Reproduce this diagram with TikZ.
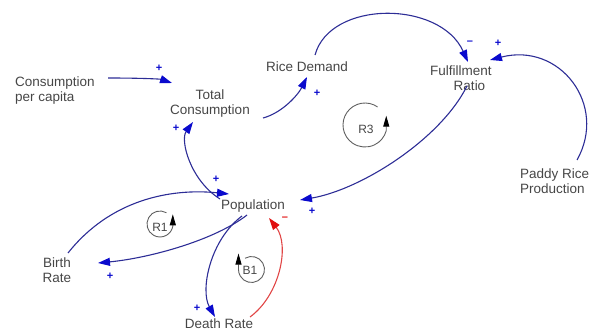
\documentclass[tikz,border=0pt]{standalone}
\usepackage{fontspec}
\setmainfont{Liberation Sans}
\usetikzlibrary{arrows.meta,calc}
\definecolor{linkblue}{RGB}{45,45,150}
\definecolor{tipblue}{RGB}{10,10,205}
\definecolor{linkred}{RGB}{225,70,70}
\definecolor{tipred}{RGB}{225,15,15}
\definecolor{txt}{RGB}{70,70,70}
\definecolor{loopgray}{RGB}{95,95,95}
\begin{document}
\begin{tikzpicture}[x=1pt,y=-1pt,
  var/.style={font=\fontsize{13.5}{15}\selectfont, text=txt, inner sep=0pt, align=center},
  link/.style={draw=linkblue, line width=1.1pt, -{Triangle[length=12pt,width=8pt,color=tipblue]}},
  neglink/.style={draw=linkred, line width=1.1pt, -{Triangle[length=12pt,width=8pt,color=tipred]}},
  pol/.style={font=\fontsize{11}{11}\selectfont\bfseries, text=tipblue, inner sep=0pt},
  negpol/.style={font=\fontsize{11}{11}\selectfont\bfseries, text=tipred, inner sep=0pt},
  loopc/.style={draw=loopgray, line width=0.9pt, -{Triangle[length=11pt,width=6pt,color=black]}},
  looplbl/.style={font=\fontsize{12}{12}\selectfont, text=txt, inner sep=0pt}]
\useasboundingbox (0,0) rectangle (590,332);

% variables
\node[var, anchor=west, align=left] (cpc) at (15,91) {Consumption\\per capita};
\node[var] (tc) at (210,104) {Total\\Consumption};
\node[var] (rd) at (307,67) {Rice Demand};
\node[var] (fr) at (461,78) {Fulfillment\\\hspace*{17pt}Ratio};
\node[var, anchor=west, align=left] (prp) at (520,181) {Paddy Rice\\Production};
\node[var] (pop) at (253,206) {Population};
\node[var] (br) at (57,270) {Birth\\Rate};
\node[var] (dr) at (219,324) {Death Rate};

% links
\draw[link] ($(cpc.west)+(93,-13)$) .. controls ($(cpc.west)+(125,-13)$) and ($(tc)+(-50,-25)$) .. ($(tc)+(-38,-21)$);
\draw[link] ($(tc)+(53,14)$) .. controls ($(tc)+(72,9)$) and ($(rd)+(-9,28)$) .. ($(rd)+(0,10)$);
\draw[link] ($(rd)+(8,-12)$) .. controls ($(rd)+(23,-67)$) and ($(fr)+(-21,-78)$) .. ($(fr)+(7,-16)$);
\draw[link] ($(prp.west)+(57,-21)$) .. controls ($(prp.west)+(88,-76)$) and ($(fr)+(99,-36)$) .. ($(fr)+(29,-18)$);
\draw[link] ($(fr)+(6,8)$) .. controls ($(fr)+(-21,62)$) and ($(pop)+(107,-16)$) .. ($(pop)+(47,-6)$);
\draw[link] ($(pop)+(-33,-7)$) .. controls ($(pop)+(-63,-26)$) and ($(tc)+(-30,36)$) .. ($(tc)+(-17,18)$);
\draw[link] ($(br)+(11,-17)$) .. controls ($(br)+(53,-70)$) and ($(pop)+(-83,-18)$) .. ($(pop)+(-24,-12)$);
\draw[link] ($(pop)+(-6,9)$) .. controls ($(pop)+(-38,34)$) and ($(br)+(93,-12)$) .. ($(br)+(41,-7)$);
\draw[link] ($(pop)+(-11,10)$) .. controls ($(pop)+(-43,34)$) and ($(dr)+(-19,-34)$) .. ($(dr)+(-4,-7)$);
\draw[neglink] ($(dr)+(31,-7)$) .. controls ($(dr)+(61,-29)$) and ($(pop)+(37,39)$) .. ($(pop)+(16,12)$);

% polarities
\node[pol] (p1) at (159,68) {+};
\node[pol] (p2) at (317,93) {+};
\node[pol] (p3) at (470,43) {–};
\node[pol] (p4) at (498,43) {+};
\node[pol] (p5) at (312,211) {+};
\node[pol] (p6) at (176,128) {+};
\node[pol] (p7) at (216,179) {+};
\node[pol] (p8) at (110,276) {+};
\node[pol] (p9) at (197,308) {+};
\node[negpol] (p10) at (285,219) {–};

% loop markers
\node[looplbl] (r3) at (366,129) {R3};
\draw[loopc] ($(r3)+(-1,-4)+(-55:22)$) arc[start angle=-55, end angle=-345, radius=22] -- ++(0,-15);
\node[looplbl] (r1) at (160,227) {R1};
\draw[loopc] ($(r1)+(0,-3)+(-60:13)$) arc[start angle=-60, end angle=-350, radius=13] -- ++(0,-12);
\node[looplbl] (b1) at (250,270) {B1};
\draw[loopc] ($(b1)+(1.5,-0.5)+(-120:13)$) arc[start angle=-120, end angle=180, radius=13] -- ++(0,-16);
\end{tikzpicture}
\end{document}
